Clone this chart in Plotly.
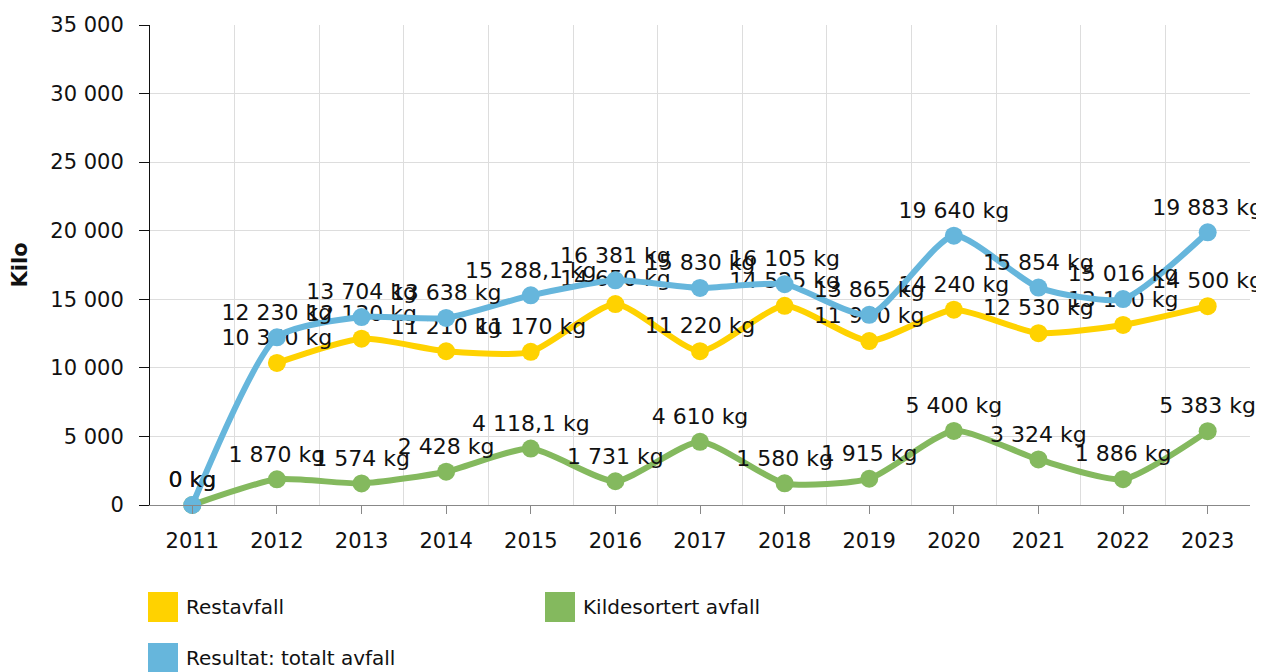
import plotly.graph_objects as go

years = list(range(2011, 2024))
restavfall = [None, 10360, 12130, 11210, 11170, 14650, 11220, 14525, 11950, 14240, 12530, 13130, 14500]
kildesortert = [0, 1870, 1574, 2428, 4118.1, 1731, 4610, 1580, 1915, 5400, 3324, 1886, 5383]
totalt = [0, 12230, 13704, 13638, 15288.1, 16381, 15830, 16105, 13865, 19640, 15854, 15016, 19883]

series = [
    ("Restavfall", restavfall, "#FFD200"),
    ("Kildesortert avfall", kildesortert, "#84B95E"),
    ("Resultat: totalt avfall", totalt, "#66B6DC"),
]

FONT = "Verdana, DejaVu Sans, sans-serif"

# the page body adds an 8px offset; plot area given in screen pixels
OFF = 8
PL, PT, PW, PH = 150, 25, 1100, 480


def fmt_kg(v):
    if v is None:
        return ""
    if v != int(v):
        s = f"{v:,.1f}"
    else:
        s = f"{int(v):,}"
    return s.replace(",", " ").replace(".", ",") + " kg"


def px(x):
    return (x - PL) / PW


def py(y):
    return (PT + PH - y) / PH


fig = go.Figure()
for name, values, color in series:
    fig.add_trace(go.Scatter(
        x=years,
        y=values,
        mode="lines+markers+text",
        name=name,
        line=dict(color=color, width=6, shape="spline", smoothing=0.6),
        marker=dict(color=color, size=18),
        text=[fmt_kg(v) for v in values],
        textposition="top center",
        textfont=dict(family=FONT, size=22, color="#111"),
        showlegend=False,
        cliponaxis=False,
    ))

# legend drawn below the plot: square swatch + label, two per row
legend_slots = [(148, 607), (545, 607), (148, 658)]
for (name, values, color), (lx, ly) in zip(series, legend_slots):
    fig.add_shape(
        type="rect", xref="paper", yref="paper",
        x0=px(lx), x1=px(lx + 30), y0=py(ly - 15), y1=py(ly + 15),
        fillcolor=color, line=dict(width=0),
    )
    fig.add_annotation(
        xref="paper", yref="paper", x=px(lx + 36), y=py(ly),
        text=name, showarrow=False, xanchor="left", yanchor="middle",
        font=dict(family=FONT, size=20, color="#111"),
    )

fig.update_layout(
    width=1264,
    height=672,
    margin=dict(l=PL - OFF, r=1264 - PL - PW + OFF, t=PT - OFF, b=672 - PT - PH + OFF),
    paper_bgcolor="white",
    plot_bgcolor="white",
    separators=", ",
    showlegend=False,
    font=dict(family=FONT, size=21, color="#111"),
    xaxis=dict(
        range=[2010.5, 2023.5],
        tickmode="array",
        tickvals=years,
        ticktext=[str(y) for y in years],
        ticks="outside",
        ticklen=8,
        tickcolor="#888",
        showgrid=False,
        showline=True,
        linecolor="#888",
        linewidth=1,
        zeroline=False,
        minor=dict(tick0=2010.5, dtick=1, showgrid=True, gridcolor="#dddddd", ticklen=0),
        ticklabelstandoff=9,
        automargin=False,
    ),
    yaxis=dict(
        range=[0, 35000],
        dtick=5000,
        tickformat=",d",
        ticks="outside",
        ticklen=10,
        tickcolor="#111",
        showline=True,
        linecolor="#111",
        linewidth=1,
        gridcolor="#dddddd",
        zeroline=False,
        ticklabelstandoff=11,
        title=dict(text="<b>Kilo</b>", standoff=16, font=dict(size=21)),
        automargin=False,
    ),
)

fig.write_html("out.html")
